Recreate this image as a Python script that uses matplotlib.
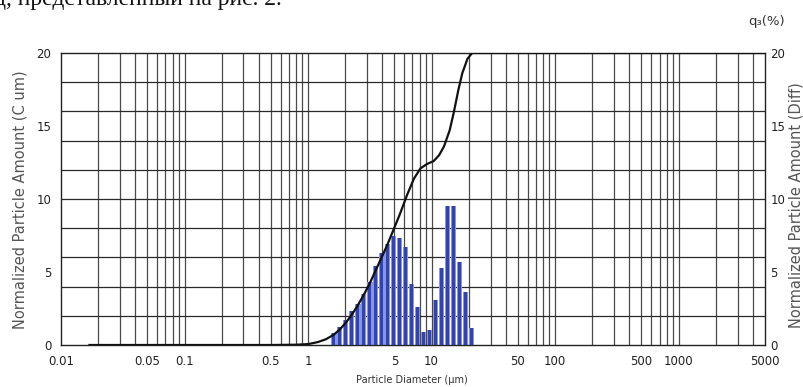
import matplotlib
matplotlib.use("Agg")
import matplotlib.pyplot as plt
import numpy as np

plt.rcParams['font.family'] = ['DejaVu Sans']

# histogram (diff) : bin diameter in um, amount
diam = [1.61, 1.80, 2.01, 2.25, 2.52, 2.81, 3.15, 3.52, 3.94, 4.40, 4.92, 5.50,
        6.15, 6.88, 7.69, 8.60, 9.62, 10.76, 12.03, 13.45, 15.04, 16.82, 18.80, 21.03]
diff = [0.8, 1.25, 1.7, 2.3, 2.8, 3.5, 4.3, 5.4, 6.3, 6.9, 7.5, 7.3,
        6.7, 4.2, 2.6, 0.9, 1.0, 3.1, 5.25, 9.5, 9.5, 5.7, 3.65, 1.15]

# cumulative curve
cum_x = [0.017, 0.5, 0.8, 1.0, 1.2, 1.4, 1.61, 1.8, 2.01, 2.25, 2.52, 2.81, 3.15,
         3.52, 3.94, 4.4, 4.92, 5.5, 6.35, 7.2, 8.13, 9.2, 10.4, 11.5, 12.6,
         14.0, 15.1, 16.5, 17.7, 19.5, 21.3, 5000]
cum_y = [0, 0, 0.02, 0.06, 0.2, 0.4, 0.7, 1.05, 1.5, 2.05, 2.7, 3.4, 4.2,
         5.1, 6.0, 6.9, 7.9, 8.9, 10.3, 11.4, 12.1, 12.4, 12.6, 13.0, 13.6,
         14.7, 15.9, 17.5, 18.6, 19.6, 20, 20]

xticks = [0.01, 0.05, 0.1, 0.5, 1, 5, 10, 50, 100, 500, 1000, 5000]
xlabels = ["0.01", "0.05", "0.1", "0.5", "1", "5", "10", "50", "100", "500", "1000", "5000"]
yticks = [0, 5, 10, 15, 20]

fig = plt.figure(figsize=(8.04, 3.87), dpi=100)
ax = fig.add_axes([61 / 804, 1 - 345 / 387, 704 / 804, 292 / 387])

# grid: every 1..9 x 10^k vertically, every 2 horizontally
for k in range(-2, 4):
    for m in range(1, 10):
        v = m * 10.0 ** k
        if 0.01 < v < 5000:
            ax.axvline(v, color="#4a4a4a", lw=0.9, zorder=1)
for h in range(2, 20, 2):
    ax.axhline(h, color="#2a2a2a", lw=0.9, zorder=1)

# bars with lighter rim
d = np.array(diam)
w_out = 0.047
w_in = 0.028
ax.bar(d * 10 ** (-w_out / 2), diff, width=d * (10 ** (w_out / 2) - 10 ** (-w_out / 2)),
       align="edge", color="#8696e4", zorder=2)
ax.bar(d * 10 ** (-w_in / 2), diff, width=d * (10 ** (w_in / 2) - 10 ** (-w_in / 2)),
       align="edge", color="#3343ad", zorder=3)

ax.plot(cum_x, cum_y, color="#111111", lw=1.6, zorder=4)

ax.set_xscale("log")
ax.set_xlim(0.01, 5000)
ax.set_ylim(0, 20)
ax.set_xticks(xticks)
ax.set_xticklabels(xlabels)
ax.xaxis.set_minor_locator(matplotlib.ticker.NullLocator())
ax.set_yticks(yticks)
ax.tick_params(axis="x", length=0, labelsize=8.5, colors="#222222", pad=7)
ax.tick_params(axis="y", length=0, labelsize=8.5, colors="#222222", pad=7)
for s in ax.spines.values():
    s.set_color("#222222")
    s.set_linewidth(1.0)

ax2 = ax.twinx()
ax2.set_ylim(0, 20)
ax2.set_yticks(yticks)
ax2.tick_params(length=0, labelsize=8.5, colors="#222222", pad=4)
for s in ax2.spines.values():
    s.set_visible(False)

fig.text(412 / 804, 1 - 380 / 387, "Particle Diameter (µm)", ha="center", va="center",
         fontsize=7, color="#333333")
fig.text(20 / 804, 1 - 200 / 387, "Normalized Particle Amount (C um)", ha="center", va="center",
         rotation=90, fontsize=10.5, color="#555555")
fig.text(796 / 804, 1 - 205 / 387, "Normalized Particle Amount (Diff)", ha="center", va="center",
         rotation=90, fontsize=10.5, color="#555555")
fig.text(767 / 804, 1 - 21 / 387, "q₃(%)", ha="center", va="center", fontsize=9.5, color="#333333")
fig.text(-6 / 804, 1 - 5 / 387, "д, представленный на рис. 2.", ha="left", va="baseline",
         fontsize=17, family=["Liberation Serif"], color="#111111")

fig.savefig("out.png", dpi=100)
